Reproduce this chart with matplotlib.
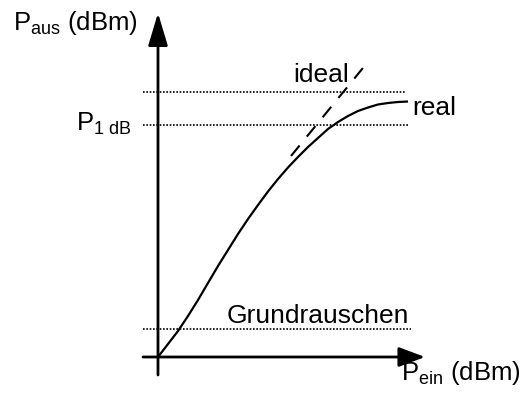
import matplotlib
matplotlib.use("Agg")
import matplotlib.pyplot as plt

plt.rcParams["font.family"] = ["Liberation Sans", "DejaVu Sans"]
plt.rcParams["mathtext.fontset"] = "custom"
plt.rcParams["mathtext.rm"] = "Liberation Sans"
plt.rcParams["mathtext.it"] = "Liberation Sans"

# schematic units: origin at the axes crossing, y up
real_x = [0, 10, 20, 30, 40, 50, 60, 70, 80, 90, 100, 110, 120, 130,
          140, 150, 160, 170, 180, 190, 200, 210, 220, 230, 240, 250]
real_y = [0, 13, 26, 41, 57, 74, 91, 107, 123, 138, 152, 165.5, 178, 189.5,
          200, 210, 219, 228, 235, 241, 246, 249.5, 252.5, 254, 255, 255.5]

ideal_x = [133, 209]
ideal_y = [201, 294]

levels = {"sat": 265, "p1db": 232, "noise": 28}
level_ends = {"sat": 247, "p1db": 250, "noise": 253}

fig = plt.figure(figsize=(5.23, 3.96), dpi=100)
ax = fig.add_axes([0, 0, 1, 1])
ax.set_xlim(-158, 365)
ax.set_ylim(-39, 357)
ax.axis("off")

# dotted reference levels
for key, y in levels.items():
    ax.plot([-15, level_ends[key]], [y, y], color="black", lw=1.2,
            linestyle=(0, (1, 1)))

# axes with arrow heads
ax.annotate("", xy=(0, 344), xytext=(0, -18),
            arrowprops=dict(arrowstyle="-|>,head_length=20,head_width=6",
                            mutation_scale=1, lw=2, color="black",
                            shrinkA=0, shrinkB=0))
ax.annotate("", xy=(267, 0), xytext=(-15, 0),
            arrowprops=dict(arrowstyle="-|>,head_length=16,head_width=6",
                            mutation_scale=1, lw=2, color="black",
                            shrinkA=0, shrinkB=0))

ax.plot(real_x, real_y, color="black", lw=1.6, solid_joinstyle="round",
        solid_capstyle="butt")
ax.plot(ideal_x, ideal_y, color="black", lw=1.5, linestyle=(0, (6.5, 5.5)))

fs = 19
ax.text(-145, 327, r"P$_{\mathrm{aus}}$ (dBm)", fontsize=18.5, va="baseline")
ax.text(-26, 226, r"P$_{\mathrm{1\ dB}}$", fontsize=18.5, va="baseline", ha="right")
ax.text(135, 275, "ideal", fontsize=fs, va="baseline")
ax.text(254, 242, "real", fontsize=fs, va="baseline")
ax.text(69, 34, "Grundrauschen", fontsize=fs, va="baseline")
ax.text(243, -23, r"P$_{\mathrm{ein}}$ (dBm)", fontsize=18.5, va="baseline")

fig.savefig("out.png", dpi=100, facecolor="white")
